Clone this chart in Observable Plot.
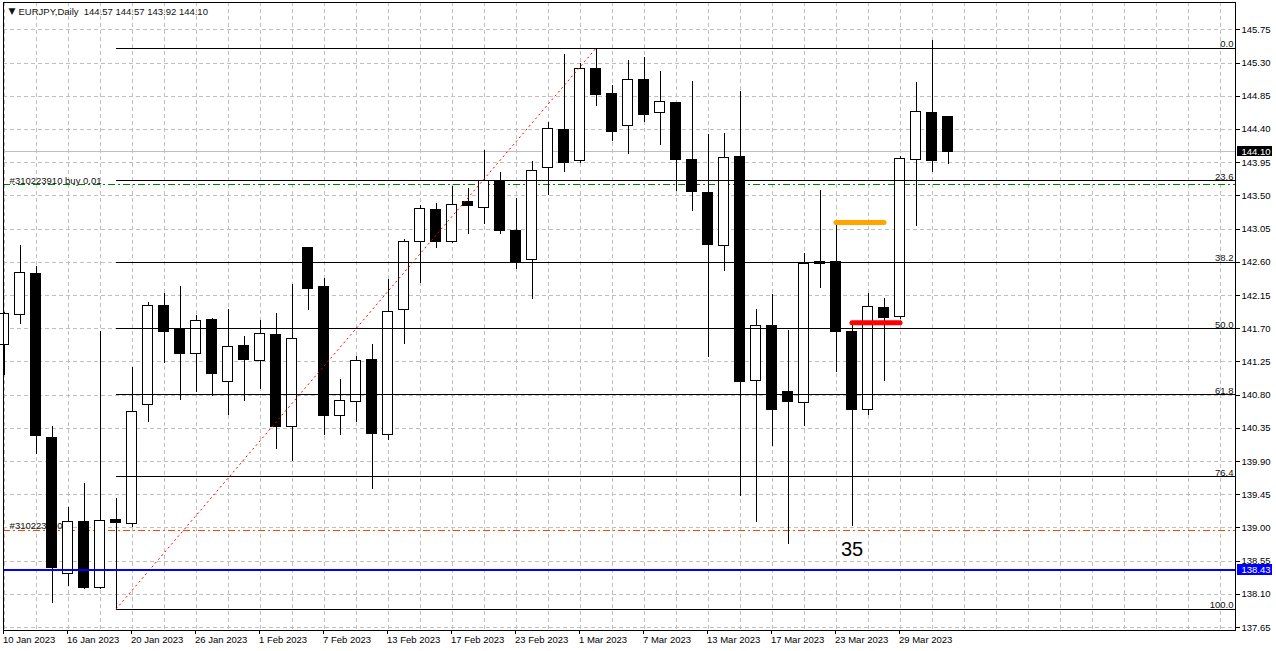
<!DOCTYPE html>
<html><head><meta charset="utf-8">
<script src="https://cdn.jsdelivr.net/npm/d3@7"></script>
<script src="https://cdn.jsdelivr.net/npm/@observablehq/plot@0.6"></script>
<style>
body{margin:0;background:#fff;}
#chart svg{display:block;}
</style></head><body><div id="chart"></div>
<script>
// ---- data ----
const dates = ["2023-01-10","2023-01-11","2023-01-12","2023-01-13","2023-01-16","2023-01-17","2023-01-18","2023-01-19","2023-01-20","2023-01-23","2023-01-24","2023-01-25","2023-01-26","2023-01-27","2023-01-30","2023-01-31","2023-02-01","2023-02-02","2023-02-03","2023-02-06","2023-02-07","2023-02-08","2023-02-09","2023-02-10","2023-02-13","2023-02-14","2023-02-15","2023-02-16","2023-02-17","2023-02-20","2023-02-21","2023-02-22","2023-02-23","2023-02-24","2023-02-27","2023-02-28","2023-03-01","2023-03-02","2023-03-03","2023-03-06","2023-03-07","2023-03-08","2023-03-09","2023-03-10","2023-03-13","2023-03-14","2023-03-15","2023-03-16","2023-03-17","2023-03-20","2023-03-21","2023-03-22","2023-03-23","2023-03-24","2023-03-27","2023-03-28","2023-03-29","2023-03-30","2023-03-31","2023-04-03"];
const open  = [141.48,141.89,142.44,140.22,138.37,139.08,138.18,139.11,139.05,140.66,142.01,141.68,141.36,141.82,140.98,141.47,141.26,141.61,140.37,142.79,142.27,140.52,140.71,141.28,140.26,141.95,142.87,143.31,142.87,143.42,143.34,143.69,143.03,142.63,143.88,144.39,143.97,145.22,144.88,144.45,145.07,144.62,144.76,143.98,143.54,142.82,144.03,140.99,141.73,140.84,140.69,142.58,142.60,141.66,140.60,141.98,141.86,143.98,144.62,144.57];
const high  = [141.92,142.83,142.54,140.37,139.28,139.60,141.66,139.40,141.17,142.05,142.17,142.27,141.88,141.84,141.96,141.59,141.81,141.90,142.30,142.80,142.38,141.01,141.32,141.48,142.36,142.91,143.37,143.39,143.63,143.60,144.11,143.81,143.46,143.96,144.49,145.42,145.29,145.50,144.99,145.33,145.37,145.18,144.77,145.05,144.33,144.35,144.91,141.96,142.16,141.68,142.72,143.57,143.12,141.78,142.17,142.11,144.03,145.03,145.61,144.57];
const low   = [141.07,141.76,139.99,137.98,138.21,138.17,138.17,137.90,139.01,140.43,141.23,140.72,140.84,140.78,140.52,140.71,140.88,140.06,139.90,141.94,140.25,140.25,140.43,139.52,140.19,141.49,142.31,142.79,142.86,142.97,143.11,142.97,142.50,142.09,143.50,143.82,143.94,144.71,144.23,144.06,144.49,144.18,143.56,143.29,141.31,142.47,139.43,139.07,140.10,138.78,140.37,142.24,141.11,139.02,140.53,140.98,141.82,143.08,143.81,143.92];
const close = [141.90,142.45,140.24,138.46,139.08,138.19,139.09,139.06,140.57,142.01,141.66,141.36,141.80,141.08,141.45,141.28,141.63,140.37,141.56,142.24,140.52,140.72,141.26,140.27,141.92,142.88,143.32,142.87,143.38,143.36,143.70,143.02,142.60,143.84,144.40,143.95,145.22,144.86,144.37,145.07,144.60,144.77,143.99,143.55,142.83,144.01,140.98,141.74,140.60,140.71,142.57,142.60,141.66,140.60,141.99,141.85,144.00,144.64,143.97,144.10];

const symbolName = "EURJPY,Daily";
const yTicks = [137.65,138.10,138.55,139.00,139.45,139.90,140.35,140.80,141.25,141.70,142.15,142.60,143.05,143.50,143.95,144.40,144.85,145.30,145.75];
const xTickDates = ["2023-01-10","2023-01-16","2023-01-20","2023-01-26","2023-02-01","2023-02-07","2023-02-13","2023-02-17","2023-02-23","2023-03-01","2023-03-07","2023-03-13","2023-03-17","2023-03-23","2023-03-29"];

const fibLevels = [0, 23.6, 38.2, 50, 61.8, 76.4, 100];
const fibLabels = ["0.0","23.6","38.2","50.0","61.8","76.4","100.0"];
const fibHigh = 145.50, fibLow = 137.90;
const fibStartDate = "2023-01-19", fibEndDate = "2023-03-02";

const buyPrice = 143.65, buyLabel = "#310223910 buy 0.01";
const slPrice = 138.97, slLabel = "#310223910 sl";
const hLinePrice = 138.43;
const orangeSeg = ["2023-03-23","2023-03-28"], orangePrice = 143.14;
const redSeg = ["2023-03-24","2023-03-29"], redPrice = 141.78;
const noteDate = "2023-03-24", notePrice = 138.71, noteText = "35";

// ---- derived tables ----
const idx = d => dates.indexOf(d);
const bars = dates.map((d, i) => ({i, o: open[i], h: high[i], l: low[i], c: close[i]}));
const bulls = bars.filter(b => b.c >= b.o);
const bears = bars.filter(b => b.c < b.o);
const last = bars[bars.length - 1];
const fibs = fibLevels.map((lv, k) => ({price: fibHigh - lv / 100 * (fibHigh - fibLow), label: fibLabels[k]}));
const fmtDate = d3.utcFormat("%-d %b %Y");

const W = 1276, H = 651;
const xDomain = [-0.03125, 76.96875];
const yDomain = [137.61, 146.12];
const xMax = xDomain[1];
const half = 0.3;
const font = "'Liberation Sans', Arial, sans-serif";
const fs = 9.5;
const crisp = {shapeRendering: "crispEdges"};
const gridStyle = {stroke: "#c0c0c0", strokeDasharray: "4,3", ...crisp};

const chart = Plot.plot({
  width: W, height: H,
  marginLeft: 3, marginRight: 41, marginTop: 2, marginBottom: 21,
  x: {domain: xDomain},
  y: {domain: yDomain},
  style: {fontFamily: font, fontSize: fs + "px", background: "white", color: "black", overflow: "visible"},
  marks: [
    // grid
    Plot.ruleY(yTicks, gridStyle),
    Plot.ruleX(d3.range(0, 77, 2), gridStyle),
    // bid line
    Plot.ruleY([last.c], {stroke: "#c0c0c0", ...crisp}),
    // order lines
    Plot.ruleY([buyPrice], {stroke: "#008000", strokeDasharray: "7,3,2,3", ...crisp}),
    Plot.text([buyLabel], {x: 0.35, y: buyPrice, text: d => d, textAnchor: "start", lineAnchor: "bottom", dy: -1, fill: "#111"}),
    Plot.ruleY([slPrice], {stroke: "#ff4500", strokeDasharray: "7,3,2,3", ...crisp}),
    Plot.text([slLabel], {x: 0.35, y: slPrice, text: d => d, textAnchor: "start", lineAnchor: "bottom", dy: -1, fill: "#111"}),
    // candles
    Plot.ruleX(bars, {x: "i", y1: "l", y2: "h", stroke: "black", ...crisp}),
    Plot.rect(bulls, {x1: d => d.i - half, x2: d => d.i + half, y1: "o", y2: "c", fill: "white", stroke: "black", ...crisp}),
    Plot.rect(bears, {x1: d => d.i - half, x2: d => d.i + half, y1: "o", y2: "c", fill: "black", stroke: "black", ...crisp}),
    // fibonacci
    Plot.ruleY(fibs, {y: "price", x1: idx(fibStartDate), x2: xMax, stroke: "black", ...crisp}),
    Plot.text(fibs, {x: xMax, y: "price", text: "label", textAnchor: "end", lineAnchor: "bottom", dx: -2, dy: -1, fill: "#111"}),
    Plot.link([{a: idx(fibStartDate), b: idx(fibEndDate)}], {x1: "a", y1: () => fibLow, x2: "b", y2: () => fibHigh, stroke: "red", strokeDasharray: "2,3"}),
    // horizontal line object
    Plot.ruleY([hLinePrice], {stroke: "#0000ff", strokeWidth: 2, ...crisp}),
    // segments
    Plot.link([orangeSeg], {x1: d => idx(d[0]), x2: d => idx(d[1]), y1: () => orangePrice, y2: () => orangePrice, stroke: "#ffa500", strokeWidth: 5, strokeLinecap: "round"}),
    Plot.link([redSeg], {x1: d => idx(d[0]), x2: d => idx(d[1]), y1: () => redPrice, y2: () => redPrice, stroke: "#ff0000", strokeWidth: 5, strokeLinecap: "round"}),
    Plot.text([noteText], {x: idx(noteDate), y: notePrice, text: d => d, fontSize: 20, fill: "black", fontFamily: font}),
    // frame
    Plot.frame({stroke: "black", ...crisp}),
    // axes
    Plot.axisY(yTicks, {anchor: "right", tickSize: 4, tickPadding: 2, tickFormat: d => d.toFixed(2), label: null, fontSize: fs, ...crisp}),
    Plot.axisX(xTickDates.map(idx), {anchor: "bottom", tickSize: 4, tickPadding: 2, tickFormat: i => fmtDate(new Date(dates[i])), textAnchor: "start", dx: -1, label: null, fontSize: fs, ...crisp}),
    // price labels on axis
    Plot.rect([{p: last.c, f: "black"}, {p: hLinePrice, f: "#0000ff"}], {x1: xMax + 0.1, x2: xMax + 2.32, y1: d => d.p - 0.07, y2: d => d.p + 0.07, fill: "f", ...crisp}),
    Plot.text([last.c, hLinePrice], {x: xMax + 0.375, y: d => d, text: d => d.toFixed(2), textAnchor: "start", fill: "white", fontSize: fs}),
    // title
    Plot.text(["▼"], {frameAnchor: "top-left", dx: 5, dy: 9, text: d => d, fontSize: 9, textAnchor: "start", lineAnchor: "middle", fill: "#111", fontFamily: "'DejaVu Sans', sans-serif"}),
    Plot.text([`${symbolName}  ${last.o.toFixed(2)} ${last.h.toFixed(2)} ${last.l.toFixed(2)} ${last.c.toFixed(2)}`], {frameAnchor: "top-left", dx: 15, dy: 9, text: d => d, textAnchor: "start", lineAnchor: "middle", fill: "#111", fontSize: fs})
  ]
});
document.getElementById("chart").appendChild(chart);
</script>
</body></html>
